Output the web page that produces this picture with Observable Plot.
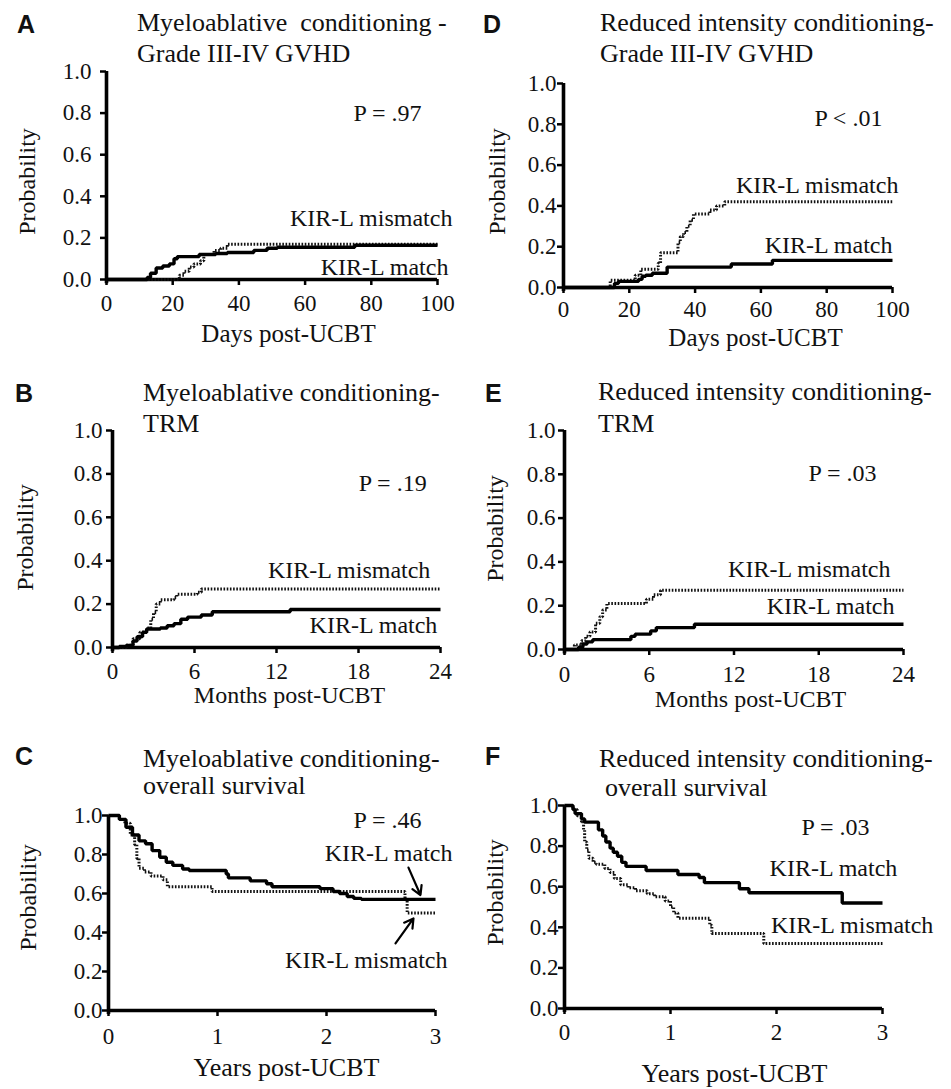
<!DOCTYPE html>
<html><head><meta charset="utf-8">
<script src="https://cdn.jsdelivr.net/npm/d3@7"></script>
<script src="https://cdn.jsdelivr.net/npm/@observablehq/plot@0.6"></script>
<style>
body{margin:0;background:#fff;}
#root{position:relative;width:951px;height:1089px;background:#fff;overflow:hidden;}
.t{position:absolute;font-family:"Liberation Serif","Times New Roman",serif;font-size:26px;line-height:1;white-space:pre;color:#111;}
.l{position:absolute;font-family:"Liberation Sans",Arial,sans-serif;font-weight:bold;font-size:25px;line-height:1;color:#111;}
#root svg{position:absolute;overflow:visible;}
</style></head><body><div id="root"></div><script>
// ---- tick labels ----
const yTicks = [0, 0.2, 0.4, 0.6, 0.8, 1.0];
const dayTicks = [0, 20, 40, 60, 80, 100];
const monthTicks = [0, 6, 12, 18, 24];
const yearTicks = [0, 1, 2, 3];

// ---- series: [time, probability] ----
const aMatch = [[0,0],[12.3,0.01],[13.3,0.03],[15,0.055],[17,0.065],[19,0.075],[20.4,0.10],[21.4,0.11],[28,0.12],[33,0.125],[36.5,0.13],[44.5,0.14],[48.5,0.15],[51.6,0.155],[75,0.165],[100,0.165]];
const aMismatch = [[0,0],[22,0.02],[23.4,0.04],[25,0.06],[26.4,0.075],[28.4,0.09],[29.4,0.12],[32.5,0.14],[34.5,0.15],[36.5,0.17],[100,0.17]];

const dMatch = [[0,0],[15.5,0.02],[16.7,0.03],[22.8,0.04],[23.9,0.055],[25,0.06],[27,0.07],[31.5,0.10],[51,0.115],[63.5,0.133],[100,0.133]];
const dMismatch = [[0,0],[14.2,0.035],[21.8,0.06],[23.5,0.09],[28.8,0.12],[29.5,0.17],[34.8,0.22],[35.5,0.25],[36.5,0.27],[37.5,0.30],[38.5,0.33],[39.5,0.36],[44.5,0.38],[46.5,0.40],[49,0.42],[100,0.42]];

const bMatch = [[0,0],[0.5,0.005],[1,0.01],[1.5,0.03],[1.8,0.05],[2.2,0.07],[2.5,0.085],[3.5,0.09],[4,0.10],[4.5,0.11],[5,0.13],[5.5,0.14],[6.5,0.15],[7.3,0.165],[13,0.175],[24,0.175]];
const bMismatch = [[0,0],[1,0.01],[1.5,0.04],[2,0.07],[2.5,0.09],[2.8,0.13],[3,0.16],[3.2,0.20],[3.5,0.22],[4.5,0.23],[4.7,0.245],[6.2,0.255],[6.5,0.27],[24,0.27]];

const eMatch = [[0,0],[1,0.01],[1.3,0.025],[1.6,0.035],[2,0.045],[4.7,0.06],[5,0.07],[6.1,0.085],[6.5,0.10],[9.2,0.115],[24,0.115]];
const eMismatch = [[0,0],[0.7,0.02],[1.2,0.04],[1.5,0.06],[1.8,0.08],[2.2,0.12],[2.5,0.15],[2.7,0.18],[3,0.21],[5.8,0.23],[6.3,0.25],[6.8,0.27],[24,0.27]];

const cMatch = [[0,1],[0.1,0.98],[0.16,0.94],[0.22,0.90],[0.28,0.87],[0.34,0.855],[0.4,0.82],[0.47,0.786],[0.53,0.76],[0.59,0.744],[0.68,0.726],[0.74,0.718],[1.08,0.70],[1.1,0.68],[1.3,0.665],[1.45,0.65],[1.5,0.635],[1.94,0.625],[2.06,0.61],[2.12,0.60],[2.19,0.585],[2.25,0.575],[2.32,0.57],[3,0.57]];
const cMismatch = [[0,1],[0.1,0.98],[0.15,0.96],[0.2,0.90],[0.24,0.85],[0.26,0.78],[0.28,0.73],[0.33,0.71],[0.39,0.69],[0.5,0.67],[0.54,0.635],[0.95,0.61],[2.72,0.57],[2.74,0.50],[3,0.50]];

const fMatch = [[0,1],[0.08,0.98],[0.1,0.96],[0.16,0.934],[0.19,0.918],[0.32,0.88],[0.36,0.85],[0.39,0.82],[0.43,0.79],[0.46,0.77],[0.5,0.75],[0.54,0.72],[0.58,0.70],[0.77,0.68],[1.07,0.66],[1.27,0.645],[1.32,0.62],[1.65,0.59],[1.74,0.57],[2.62,0.52],[3,0.52]];
const fMismatch = [[0,1],[0.08,0.98],[0.12,0.95],[0.16,0.92],[0.18,0.88],[0.19,0.82],[0.21,0.78],[0.23,0.74],[0.27,0.72],[0.3,0.71],[0.38,0.69],[0.43,0.67],[0.47,0.64],[0.53,0.61],[0.6,0.595],[0.67,0.58],[0.78,0.565],[0.85,0.55],[0.95,0.53],[1.0,0.50],[1.03,0.47],[1.07,0.445],[1.37,0.41],[1.39,0.37],[1.88,0.32],[3,0.32]];

// ---- annotation texts ----
const pValues = {A:"P = .97", D:"P < .01", B:"P = .19", E:"P = .03", C:"P = .46", F:"P = .03"};
const matchLabel = "KIR-L match";
const mismatchLabel = "KIR-L mismatch";
const cArrows = [
  {x1:2.752, y1:0.733, x2:2.862, y2:0.592},
  {x1:2.633, y1:0.344, x2:2.798, y2:0.472}
];

const panels = [
 {key:"A", letterAt:[17,33], title:[["Myeloablative  conditioning -",137,32],["Grade III-IV GVHD",137,63]],
  box:[0,0,475,345], frame:[106,437,71,279], xmax:100, xticks:dayTicks, xPad:9, yPad:9,
  match:aMatch, mismatch:aMismatch, pAt:[84.9,0.80], matchAt:[103.3,0.058], misAt:[104.5,0.293],
  xlabel:"Days post-UCBT", xlabelAt:[288,333], xlabelSize:25, ylabelAt:[27,181]},
 {key:"D", letterAt:[483,33], title:[["Reduced intensity conditioning-",600,32],["Grade III-IV GVHD",600,63]],
  box:[475,0,476,345], frame:[563,892,83,287], xmax:100, xticks:dayTicks, xPad:7, yPad:1,
  match:dMatch, mismatch:dMismatch, pAt:[86.6,0.828], matchAt:[100,0.206], misAt:[101.8,0.50],
  xlabel:"Days post-UCBT", xlabelAt:[755,337], xlabelSize:25, ylabelAt:[497,181]},
 {key:"B", letterAt:[15,402], title:[["Myeloablative conditioning-",143,402],["TRM",143,433]],
  box:[0,345,475,365], frame:[112,440,430,647], xmax:24, xticks:monthTicks, xPad:9, yPad:4,
  match:bMatch, mismatch:bMismatch, pAt:[20.5,0.756], matchAt:[23.77,0.101], misAt:[23.26,0.355],
  xlabel:"Months post-UCBT", xlabelAt:[289,695], xlabelSize:24, ylabelAt:[25,537]},
 {key:"E", letterAt:[485,402], title:[["Reduced intensity conditioning-",598,401],["TRM",598,433]],
  box:[475,345,476,365], frame:[564,903,430,649], xmax:24, xticks:monthTicks, xPad:10, yPad:3,
  match:eMatch, mismatch:eMismatch, pAt:[19.68,0.804], matchAt:[23.36,0.196], misAt:[23.08,0.365],
  xlabel:"Months post-UCBT", xlabelAt:[750,699], xlabelSize:24, ylabelAt:[495,528]},
 {key:"C", letterAt:[15,765], title:[["Myeloablative conditioning-",143,768],["overall survival",143,795]],
  box:[0,710,475,379], frame:[108,435,815,1010], xmax:3, xticks:yearTicks, xPad:11, yPad:0,
  match:cMatch, mismatch:cMismatch, pAt:[2.56,0.974], matchAt:[3.156,0.805], misAt:[3.11,0.256],
  xlabel:"Years post-UCBT", xlabelAt:[286,1067], xlabelSize:26, ylabelAt:[28,897], arrows:cArrows},
 {key:"F", letterAt:[485,765], title:[["Reduced intensity conditioning-",599,768],["overall survival",605,797]],
  box:[475,710,476,379], frame:[564,882,805,1008], xmax:3, xticks:yearTicks, xPad:9, yPad:0,
  match:fMatch, mismatch:fMismatch, pAt:[2.557,0.892], matchAt:[3.14,0.69], misAt:[3.48,0.409],
  xlabel:"Years post-UCBT", xlabelAt:[734,1073], xlabelSize:26, ylabelAt:[495,892]}
];

const root = document.getElementById("root");
const serif = "Liberation Serif";
const tickFont = 23;
const tickLen = 6;

for (const p of panels) {
  const [L, T, W, H] = p.box;
  const [fx0, fx1, fy1, fy0] = p.frame;
  const cx = (fx0 + fx1) / 2, cy = (fy0 + fy1) / 2;
  const txt = {fontFamily: serif, fill: "#111"};
  const marks = [
    // tick marks (labels drawn as text marks below)
    Plot.axisX({ticks: p.xticks, tickSize: tickLen, strokeWidth: 2.5, stroke: "#000", label: null, tickFormat: () => ""}),
    Plot.axisY({ticks: yTicks, tickSize: tickLen, strokeWidth: 2.5, stroke: "#000", label: null, tickFormat: () => ""}),
    Plot.text(p.xticks, {x: d => d, frameAnchor: "bottom", dy: tickLen + p.xPad, lineAnchor: "top", textAnchor: "middle", text: d => String(d), fontSize: tickFont, ...txt}),
    Plot.text(yTicks, {y: d => d, frameAnchor: "left", dx: -(tickLen + p.yPad), lineAnchor: "middle", textAnchor: "end", text: d3.format(".1f"), fontSize: tickFont, ...txt}),
    // axis lines
    Plot.ruleX([0], {y1: -0.02, y2: 1, strokeWidth: 3.6, stroke: "#000"}),
    Plot.ruleY([0], {x1: 0, x2: p.xmax, strokeWidth: 3.6, stroke: "#000"}),
    // curves
    Plot.line(p.mismatch, {x: d => d[0], y: d => d[1], curve: "step-after", stroke: "#111", strokeWidth: 3, strokeDasharray: "1.6,1.6", strokeLinecap: "butt", strokeLinejoin: "miter"}),
    Plot.line(p.match, {x: d => d[0], y: d => d[1], curve: "step-after", stroke: "#000", strokeWidth: 3.4, strokeLinecap: "butt", strokeLinejoin: "miter"}),
    // annotations
    Plot.text([pValues[p.key]], {x: p.pAt[0], y: p.pAt[1], textAnchor: "middle", lineAnchor: "middle", fontSize: 24, ...txt}),
    Plot.text([matchLabel], {x: p.matchAt[0], y: p.matchAt[1], textAnchor: "end", lineAnchor: "middle", fontSize: 24, ...txt}),
    Plot.text([mismatchLabel], {x: p.misAt[0], y: p.misAt[1], textAnchor: "end", lineAnchor: "middle", fontSize: 24, ...txt}),
    Plot.text([p.xlabel], {frameAnchor: "bottom", dx: p.xlabelAt[0] - cx, dy: p.xlabelAt[1] - fy0, textAnchor: "middle", lineAnchor: "middle", fontSize: p.xlabelSize, ...txt}),
    Plot.text(["Probability"], {frameAnchor: "left", dx: p.ylabelAt[0] - fx0, dy: p.ylabelAt[1] - cy, rotate: -90, textAnchor: "middle", lineAnchor: "middle", fontSize: 24, ...txt})
  ];
  if (p.arrows) {
    marks.push(Plot.arrow(p.arrows, {x1: "x1", y1: "y1", x2: "x2", y2: "y2", stroke: "#000", strokeWidth: 2.2, headLength: 10}));
  }
  const svg = Plot.plot({
    width: W, height: H,
    marginLeft: fx0 - L, marginRight: L + W - fx1,
    marginTop: fy1 - T, marginBottom: T + H - fy0,
    x: {domain: [0, p.xmax]},
    y: {domain: [0, 1]},
    style: {fontFamily: serif, background: "transparent", overflow: "visible", color: "#111"},
    marks
  });
  svg.style.left = L + "px";
  svg.style.top = T + "px";
  root.appendChild(svg);

  for (const [t, x, b] of p.title) {
    const d = document.createElement("div");
    d.className = "t";
    d.textContent = t;
    d.style.left = x + "px";
    d.style.top = (b - 0.8375 * 26) + "px";
    root.appendChild(d);
  }
  const l = document.createElement("div");
  l.className = "l";
  l.textContent = p.key;
  l.style.left = p.letterAt[0] + "px";
  l.style.top = (p.letterAt[1] - 0.8465 * 25) + "px";
  root.appendChild(l);
}
</script></body></html>
